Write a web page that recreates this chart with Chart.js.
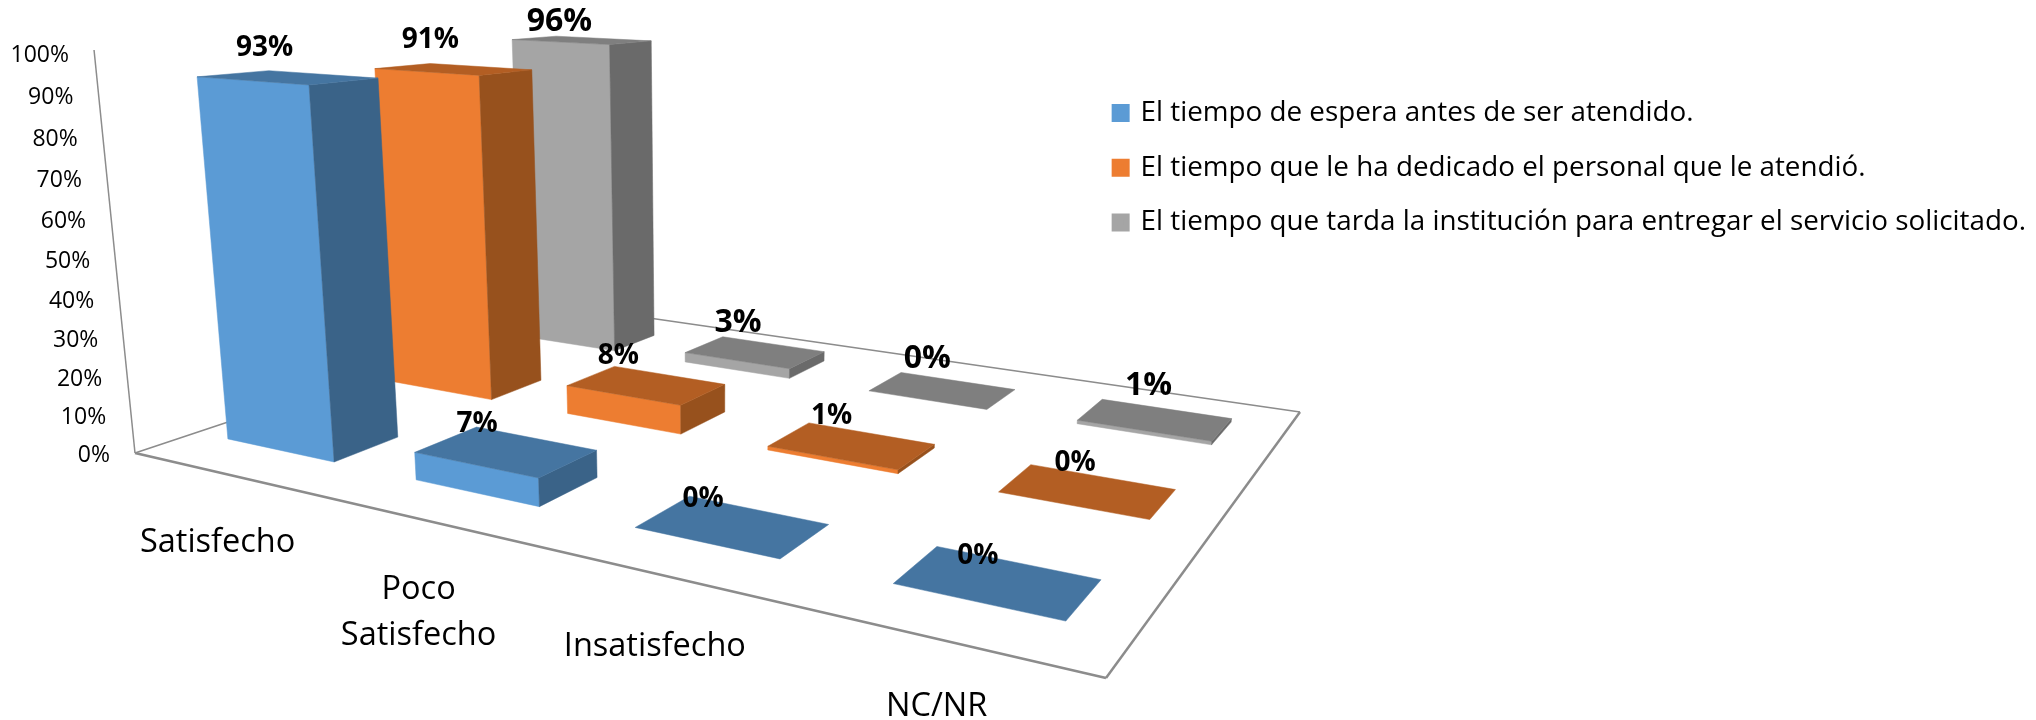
<!DOCTYPE html>
<html>
<head>
<meta charset="utf-8">
<title>Satisfacción con los tiempos de atención</title>
<script src="https://cdn.jsdelivr.net/npm/chart.js@4"></script>
<style>
    html, body { margin: 0; padding: 0; background: #fff; }
    #wrap { width: 2036px; height: 720px; }
</style>
</head>
<body>
<div id="wrap"><canvas id="chart"></canvas></div>
<script>
const categories = ['Satisfecho', ['Poco', 'Satisfecho'], 'Insatisfecho', 'NC/NR'];
const seriesNames = [
    'El tiempo de espera antes de ser atendido.',
    'El tiempo que le ha dedicado el personal que le atendió.',
    'El tiempo que tarda la institución para entregar el servicio solicitado.'
];
const esperaValues = [93, 7, 0, 0];
const dedicadoValues = [91, 8, 1, 0];
const entregaValues = [96, 3, 0, 1];

// front, top and side colour of each series
const palette = [
    { front: '#5B9BD5', top: '#4575A1', side: '#3A6388' },
    { front: '#ED7D31', top: '#B35E23', side: '#97511D' },
    { front: '#A5A5A5', top: '#7F7F7F', side: '#6A6A6A' }
];

// hand placed value labels, relative to the centre of each bar top
const labelShift = [
    [[-29, -30], [-34, -28], [-34, -28], [-24, -26]],
    [[-30, -30], [-34, -30], [-26, -30], [-18, -29]],
    [[-30, -19], [-24, -30], [-22, -32], [-13, -35]]
];
const labelFontSize = [28, 28, 32];
const categoryDrop = [2, 2, 5, -1];

// floor of the 3D box on screen: left, front, right and back corner
const floor = { a: [135, 453], b: [1106, 678], c: [1300, 412], d: [573, 307] };
const vanish = [710, 6110];
const rise = -0.0665;
const barShare = 0.585;
const depthShare = 0.37;

// square to quad homography for the floor
const sx = floor.a[0] - floor.b[0] + floor.c[0] - floor.d[0];
const sy = floor.a[1] - floor.b[1] + floor.c[1] - floor.d[1];
const dx1 = floor.b[0] - floor.c[0], dx2 = floor.d[0] - floor.c[0];
const dy1 = floor.b[1] - floor.c[1], dy2 = floor.d[1] - floor.c[1];
const den = dx1 * dy2 - dx2 * dy1;
const g = (sx * dy2 - dx2 * sy) / den;
const h = (dx1 * sy - sx * dy1) / den;

function project(u, v, w) {
    const k = g * u + h * v + 1;
    const X = (floor.b[0] - floor.a[0] + g * floor.b[0]) * u + (floor.d[0] - floor.a[0] + h * floor.d[0]) * v + floor.a[0];
    const Y = (floor.b[1] - floor.a[1] + g * floor.b[1]) * u + (floor.d[1] - floor.a[1] + h * floor.d[1]) * v + floor.a[1];
    const t = w * rise;
    return [(X + t * vanish[0]) / (k + t), (Y + t * vanish[1]) / (k + t)];
}

function xShare(scale, i) {
    return (scale.getPixelForValue(i) - scale.left) / scale.width;
}
function yShare(scale, value) {
    return (scale.bottom - scale.getPixelForValue(value)) / scale.height;
}

function face(ctx, pts, color) {
    ctx.beginPath();
    pts.forEach((p, i) => i ? ctx.lineTo(p[0], p[1]) : ctx.moveTo(p[0], p[1]));
    ctx.closePath();
    ctx.fillStyle = color;
    ctx.strokeStyle = color;
    ctx.lineWidth = 0.5;
    ctx.fill();
    ctx.stroke();
}

// Bar chart that paints each bar as a box on the perspective floor
class Box3dController extends Chart.BarController {
    draw() {
        const ctx = this.chart.ctx;
        const meta = this.getMeta();
        const s = this.index;
        const colors = palette[s];
        const cellDepth = 1 / seriesNames.length;
        const cellWidth = 1 / categories.length;
        const v0 = (s + 0.5 - depthShare / 2) * cellDepth;
        const v1 = (s + 0.5 + depthShare / 2) * cellDepth;

        meta.data.forEach((el, i) => {
            // the bars sit a touch left of their cell centres, more so further back
            const uc = xShare(meta.xScale, i) * 1.005 - 0.008 - 0.002 * s;
            const u0 = uc - barShare * cellWidth / 2;
            const u1 = uc + barShare * cellWidth / 2;
            const w = yShare(meta.yScale, this.getParsed(i).y);
            if (w > 0) {
                face(ctx, [project(u0, v0, 0), project(u1, v0, 0), project(u1, v0, w), project(u0, v0, w)], colors.front);
                face(ctx, [project(u1, v0, 0), project(u1, v1, 0), project(u1, v1, w), project(u1, v0, w)], colors.side);
            }
            face(ctx, [project(u0, v0, w), project(u1, v0, w), project(u1, v1, w), project(u0, v1, w)], colors.top);
        });
    }
}
Box3dController.id = 'box3d';
Box3dController.defaults = Chart.BarController.defaults;
Chart.register(Box3dController);

const TEXT_FONT = '"Open Sans"';

function line(ctx, p, q, width) {
    ctx.beginPath();
    ctx.moveTo(p[0], p[1]);
    ctx.lineTo(q[0], q[1]);
    ctx.lineWidth = width;
    ctx.strokeStyle = '#8C8C8C';
    ctx.stroke();
}

const frame3d = {
    id: 'frame3d',
    beforeDatasetsDraw(chart) {
        const ctx = chart.ctx;
        ctx.save();
        line(ctx, project(0, 0, 0), project(0, 0, 1), 1.5);
        line(ctx, project(0, 0, 0), project(0, 1, 0), 1.5);
        line(ctx, project(0, 1, 0), project(1, 1, 0), 1.5);
        line(ctx, project(1, 1, 0), project(1, 0, 0), 2.5);
        line(ctx, project(1, 0, 0), project(0, 0, 0), 2.5);
        ctx.restore();
    },
    afterDatasetsDraw(chart) {
        const ctx = chart.ctx;
        const xScale = chart.scales.x;
        const yScale = chart.scales.y;
        ctx.save();
        ctx.fillStyle = '#000';
        ctx.textBaseline = 'middle';

        // percent ticks follow the leaning vertical axis
        ctx.textAlign = 'right';
        ctx.font = '23px ' + TEXT_FONT;
        yScale.ticks.forEach(tick => {
            const w = yShare(yScale, tick.value);
            const p = project(0, 0, w);
            ctx.fillText(tick.label, p[0] - 25, p[1] + 2 + 3 * w);
        });

        // category names below the front edge
        ctx.textAlign = 'center';
        ctx.font = '32.5px ' + TEXT_FONT;
        categories.forEach((name, i) => {
            const p = project(xShare(xScale, i), 0, 0);
            [].concat(name).forEach((text, n) => {
                ctx.fillText(text, p[0] - 7, p[1] + 67 + categoryDrop[i] + n * 46);
            });
        });

        // value labels
        chart.data.datasets.forEach((ds, s) => {
            ctx.font = 'bold ' + labelFontSize[s] + 'px ' + TEXT_FONT;
            const v = (s + 0.5) / seriesNames.length;
            ds.data.forEach((value, i) => {
                const p = project(xShare(xScale, i), v, yShare(yScale, value));
                ctx.fillText(value + '%', p[0] + labelShift[s][i][0], p[1] + labelShift[s][i][1]);
            });
        });
        ctx.restore();
    }
};

const seriesValues = [esperaValues, dedicadoValues, entregaValues];

new Chart(document.getElementById('chart').getContext('2d'), {
    type: 'box3d',
    data: {
        labels: categories,
        datasets: seriesNames.map((name, s) => ({
            label: name,
            data: seriesValues[s],
            backgroundColor: palette[s].front,
            borderColor: palette[s].front,
            borderWidth: 6,
            clip: false
        }))
    },
    options: {
        responsive: true,
        maintainAspectRatio: false,
        animation: false,
        layout: { padding: { top: 72, right: 0 } },
        scales: {
            x: { type: 'category', display: false, offset: true },
            y: {
                type: 'linear',
                display: false,
                min: 0,
                max: 100,
                ticks: { stepSize: 10, callback: value => value + '%' }
            }
        },
        plugins: {
            tooltip: { enabled: false },
            legend: {
                position: 'right',
                align: 'start',
                labels: {
                    color: '#000',
                    boxWidth: 12,
                    boxHeight: 12,
                    padding: 27,
                    font: { family: TEXT_FONT, size: 27.8 }
                }
            }
        }
    },
    plugins: [frame3d]
});
</script>
</body>
</html>
